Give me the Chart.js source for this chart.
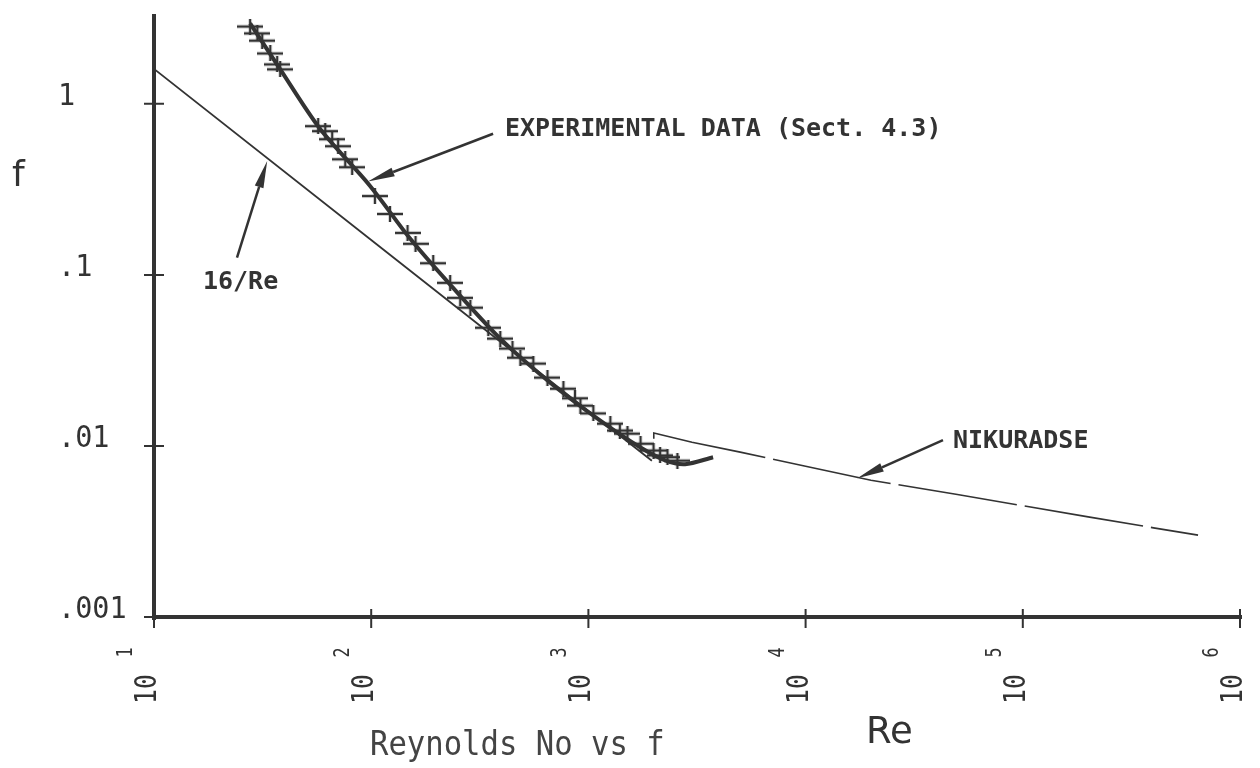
<!DOCTYPE html>
<html>
<head>
<meta charset="utf-8">
<title>Reynolds No vs f</title>
<script src="https://cdn.jsdelivr.net/npm/chart.js@4.4.1/dist/chart.umd.min.js"></script>
<style>
  html, body { margin: 0; padding: 0; background: #fff; }
  #frictionChart { display: block; }
</style>
</head>
<body>
<canvas id="frictionChart" width="1260" height="768"></canvas>
<script>
// Experimental points (Sect. 4.3)
const expRe = [27.7, 29.9, 31.5, 34.3, 36.9, 38.1, 57, 61.4, 66.1, 70.4, 75.9, 81.7, 104, 122, 147, 160, 193, 231, 257, 286,
  346, 393, 447, 486, 558, 648, 767, 867, 919, 1054, 1262, 1396, 1513, 1738, 1995, 2138, 2313, 2570];
const expF = [2.83, 2.58, 2.34, 1.97, 1.70, 1.59, 0.740, 0.692, 0.621, 0.565, 0.474, 0.426, 0.289, 0.227, 0.176, 0.152, 0.117, 0.0898, 0.0734, 0.0643,
  0.0491, 0.0424, 0.0371, 0.0328, 0.0303, 0.0251, 0.0216, 0.0190, 0.0172, 0.0155, 0.0135, 0.0123, 0.0118, 0.0103, 0.0094, 0.0088, 0.0086, 0.0082];

// Curve drawn through the experimental data
const fitRe = [27.7, 38.0, 58.1, 98.6, 151, 231, 392, 665, 1130, 1730, 2255, 2787, 3750];
const fitF = [2.95, 1.60, 0.715, 0.332, 0.163, 0.0877, 0.0425, 0.0235, 0.0141, 0.00982, 0.00824, 0.00782, 0.00859];

// Laminar line 16/Re
const laminarRe = [10, 100, 1000, 1960];
const laminarF = [1.6, 0.16, 0.016, 0.0082];

// Nikuradse turbulent curve
const nikRe = [2000, 2000, 3000, 5000, 10000, 20000, 50000, 100000, 200000, 400000, 641000];
const nikF = [0.0110, 0.0119, 0.0105, 0.0092, 0.0076, 0.0063, 0.0052, 0.00447, 0.00385, 0.00332, 0.00301];

// Axis ticks
const xTickExps = [1, 2, 3, 4, 5, 6];
const yTickValues = [1, 0.1, 0.01, 0.001];
const yTickLabels = ['1', '.1', '.01', '.001'];

const ink = '#333';
const mono = 'DejaVu Sans Mono';

function toPoints(xs, ys) {
  return xs.map((x, i) => ({ x: x, y: ys[i] }));
}

// plus marker with a long horizontal bar, like the plotter's symbol
function makeMarker() {
  const c = document.createElement('canvas');
  c.width = 26;
  c.height = 16;
  const g = c.getContext('2d');
  g.strokeStyle = ink;
  g.lineWidth = 2.4;
  g.beginPath();
  g.moveTo(0, 8); g.lineTo(26, 8);
  g.moveTo(13, 0); g.lineTo(13, 16);
  g.stroke();
  return c;
}

// text helper: condensed monospace like the plotter lettering
function plotText(ctx, text, x, y, font, sx, rotate) {
  ctx.save();
  ctx.translate(x, y);
  if (rotate) ctx.rotate(-Math.PI / 2);
  ctx.scale(sx, 1);
  ctx.font = font;
  ctx.fillText(text, 0, 0);
  ctx.restore();
}

function arrow(ctx, x1, y1, x2, y2) {
  const ang = Math.atan2(y2 - y1, x2 - x1);
  const headLen = 27, half = 4.5;
  const bx = x2 - headLen * Math.cos(ang), by = y2 - headLen * Math.sin(ang);
  ctx.lineWidth = 2.5;
  ctx.beginPath();
  ctx.moveTo(x1, y1);
  ctx.lineTo(bx, by);
  ctx.stroke();
  ctx.beginPath();
  ctx.moveTo(x2, y2);
  ctx.lineTo(bx + half * Math.sin(ang), by - half * Math.cos(ang));
  ctx.lineTo(bx - half * Math.sin(ang), by + half * Math.cos(ang));
  ctx.closePath();
  ctx.fill();
}

// labels with arrows, anchored in data coordinates
const notes = [
  { text: 'EXPERIMENTAL DATA (Sect. 4.3)', at: [413, 0.650], tail: [364, 0.668], tip: [96.6, 0.351] },
  { text: '16/Re', at: [16.8, 0.0832], tail: [24.1, 0.126], tip: [33.2, 0.463] },
  { text: 'NIKURADSE', at: [47700, 0.00968], tail: [42900, 0.0108], tip: [17300, 0.00647] }
];

const plotFrame = {
  id: 'plotFrame',
  afterDraw(chart) {
    const ctx = chart.ctx;
    const xs = chart.scales.x, ys = chart.scales.y;
    const area = chart.chartArea;
    ctx.save();
    ctx.strokeStyle = ink;
    ctx.fillStyle = ink;
    ctx.lineCap = 'butt';

    // axes
    ctx.lineWidth = 4;
    ctx.beginPath();
    ctx.moveTo(area.left, area.top);
    ctx.lineTo(area.left, area.bottom + 3);
    ctx.moveTo(area.left - 2, area.bottom);
    ctx.lineTo(area.right + 2, area.bottom);
    ctx.stroke();

    // tick crosses
    ctx.lineWidth = 2;
    ctx.beginPath();
    yTickValues.forEach(v => {
      const y = ys.getPixelForValue(v);
      ctx.moveTo(area.left - 10, y);
      ctx.lineTo(area.left + 10, y);
    });
    xTickExps.forEach(e => {
      const x = xs.getPixelForValue(Math.pow(10, e));
      ctx.moveTo(x, area.bottom - 8);
      ctx.lineTo(x, area.bottom + 11);
    });
    ctx.stroke();

    // y tick labels
    ctx.textAlign = 'left';
    ctx.textBaseline = 'alphabetic';
    yTickValues.forEach((v, i) => {
      const y = ys.getPixelForValue(v);
      plotText(ctx, yTickLabels[i], 58, y + 1, '31px ' + mono, 0.92, false);
    });

    // x tick labels, rotated, 10 with exponent
    xTickExps.forEach(e => {
      const x = xs.getPixelForValue(Math.pow(10, e));
      plotText(ctx, '10', x + 2, 704, '31px ' + mono, 0.8, true);
      ctx.save();
      ctx.translate(x + 2, 704);
      ctx.rotate(-Math.PI / 2);
      ctx.scale(0.8, 1);
      ctx.font = '21px ' + mono;
      ctx.fillText(String(e), 58, -24);
      ctx.restore();
    });

    // axis titles and caption
    ctx.font = '36px "DejaVu Sans"';
    ctx.fillText('f', 12, 186);
    ctx.font = '37px "DejaVu Sans"';
    ctx.fillText('Re', 866, 743);
    ctx.fillStyle = '#444';
    plotText(ctx, 'Reynolds No vs f', 370, 755, '34px ' + mono, 0.9, false);
    ctx.fillStyle = ink;

    // annotations
    notes.forEach(n => {
      ctx.font = 'bold 25px ' + mono;
      ctx.fillText(n.text, xs.getPixelForValue(n.at[0]), ys.getPixelForValue(n.at[1]));
      arrow(ctx,
        xs.getPixelForValue(n.tail[0]), ys.getPixelForValue(n.tail[1]),
        xs.getPixelForValue(n.tip[0]), ys.getPixelForValue(n.tip[1]));
    });
    ctx.restore();
  }
};

const ctx = document.getElementById('frictionChart').getContext('2d');
const frictionChart = new Chart(ctx, {
  type: 'scatter',
  data: {
    datasets: [
      {
        label: '16/Re',
        data: toPoints(laminarRe, laminarF),
        showLine: true,
        borderColor: ink,
        borderWidth: 1.8,
        pointRadius: 0
      },
      {
        label: 'Nikuradse',
        data: toPoints(nikRe, nikF),
        showLine: true,
        borderColor: ink,
        borderWidth: 1.6,
        borderDash: [120, 8],
        pointRadius: 0
      },
      {
        label: 'Experimental fit',
        data: toPoints(fitRe, fitF),
        showLine: true,
        borderColor: ink,
        borderWidth: 4,
        tension: 0.3,
        pointRadius: 0
      },
      {
        label: 'Experimental data',
        data: toPoints(expRe, expF),
        showLine: false,
        pointStyle: makeMarker(),
        pointRadius: 13,
        borderColor: ink,
        backgroundColor: ink
      }
    ]
  },
  options: {
    responsive: false,
    animation: false,
    devicePixelRatio: 1,
    layout: { padding: { left: 154, right: 20, top: 13, bottom: 151 } },
    plugins: {
      legend: { display: false },
      tooltip: { enabled: false }
    },
    scales: {
      x: { type: 'logarithmic', min: 10, max: 1e6, display: false },
      y: { type: 'logarithmic', min: 0.001, max: 3.35, display: false }
    }
  },
  plugins: [plotFrame]
});
</script>
</body>
</html>
